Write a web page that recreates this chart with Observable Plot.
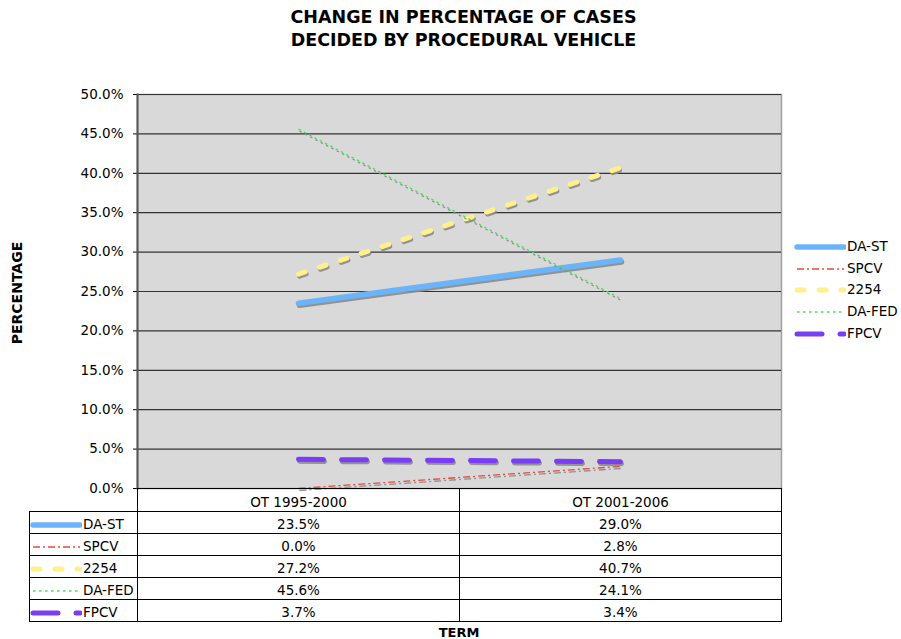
<!DOCTYPE html>
<html><head><meta charset="utf-8">
<script src="https://cdn.jsdelivr.net/npm/d3@7"></script>
<script src="https://cdn.jsdelivr.net/npm/@observablehq/plot@0.6"></script>
<style>
body{margin:0;background:#fff;font-family:"DejaVu Sans",sans-serif;color:#000;}
#wrap{position:relative;width:901px;height:639px;overflow:hidden;background:#fff;}
#title{position:absolute;left:0;top:6px;width:927px;text-align:center;font-weight:bold;font-size:17.5px;line-height:23px;}
#chart{position:absolute;left:0;top:0;}
#ylab{position:absolute;left:17px;top:293px;transform:translate(-50%,-50%) rotate(-90deg);font-weight:bold;font-size:14px;white-space:nowrap;}
#xlab{position:absolute;left:459px;top:632px;transform:translate(-50%,-50%);font-weight:bold;font-size:13px;}
#tbl{position:absolute;left:29px;top:488px;border-collapse:collapse;font-size:13.5px;table-layout:fixed;}
#tbl td{border:1px solid #000;text-align:center;padding:0;height:21px;vertical-align:bottom;line-height:18px;white-space:nowrap;}
#tbl tr.hdr td{height:22px;}
#tbl td.blank{border:none;}
#tbl td.key{text-align:left;}
#tbl td.key svg,#legend svg{vertical-align:middle;margin-right:1px;}
#legend{position:absolute;left:794px;top:236px;font-size:13.5px;}
#legend div{height:21.7px;line-height:21.7px;white-space:nowrap;}
</style>
</head><body>
<div id="wrap">
  <div id="chart"></div>
  <div id="title">CHANGE IN PERCENTAGE OF CASES<br>DECIDED BY PROCEDURAL VEHICLE</div>
  <div id="ylab">PERCENTAGE</div>
  <div id="legend"></div>
  <table id="tbl"></table>
  <div id="xlab">TERM</div>
</div>
<script>
// ---- data ----
const terms = ["OT 1995-2000", "OT 2001-2006"];
const seriesNames = ["DA-ST", "SPCV", "2254", "DA-FED", "FPCV"];
const daSt = [23.5, 29.0];
const spcv = [0.0, 2.8];
const v2254 = [27.2, 40.7];
const daFed = [45.6, 24.1];
const fpcv = [3.7, 3.4];
const yTickValues = [0, 5, 10, 15, 20, 25, 30, 35, 40, 45, 50];

// ---- styles ----
const seriesValues = [daSt, spcv, v2254, daFed, fpcv];
const seriesStyle = {
  "DA-ST":  {stroke: "#6cb4f9", strokeWidth: 5.5, strokeDasharray: null,      strokeLinecap: "round"},
  "SPCV":   {stroke: "#e8483e", strokeWidth: 1.3, strokeDasharray: "7,3,2,3", strokeLinecap: "butt"},
  "2254":   {stroke: "#fff08c", strokeWidth: 5,   strokeDasharray: "7,15",    strokeLinecap: "round"},
  "DA-FED": {stroke: "#44e05a", strokeWidth: 1.3, strokeDasharray: "2.5,3.5", strokeLinecap: "butt"},
  "FPCV":   {stroke: "#7a3df6", strokeWidth: 5,   strokeDasharray: "25,18",   strokeLinecap: "round"}
};
const fmt = d => d.toFixed(1) + "%";

const rows = seriesNames.flatMap((s, i) => terms.map((t, j) => ({series: s, term: t, value: seriesValues[i][j]})));

const lineMarks = [];
for (const s of seriesNames) {
  const st = seriesStyle[s];
  const data = rows.filter(r => r.series === s);
  lineMarks.push(Plot.line(data, {x: "term", y: "value", stroke: "#8a8a8a", strokeOpacity: 0.9,
    strokeWidth: st.strokeWidth, strokeDasharray: st.strokeDasharray, strokeLinecap: st.strokeLinecap, dx: 1, dy: 2}));
  lineMarks.push(Plot.line(data, {x: "term", y: "value", stroke: st.stroke,
    strokeWidth: st.strokeWidth, strokeDasharray: st.strokeDasharray, strokeLinecap: st.strokeLinecap}));
}

const chart = Plot.plot({
  width: 901, height: 500,
  marginTop: 94, marginBottom: 12, marginLeft: 137, marginRight: 120,
  style: {background: "transparent", fontFamily: "DejaVu Sans", fontSize: "13.5px", color: "#000", overflow: "visible"},
  x: {type: "point", domain: terms, padding: 0.5, axis: null},
  y: {domain: [0, 50], axis: null},
  marks: [
    Plot.frame({fill: "#d9d9d9", stroke: "#a0a0a0", strokeWidth: 1.5}),
    Plot.gridY(yTickValues, {stroke: "#333", strokeOpacity: 1, strokeWidth: 1.2}),
    Plot.axisY(yTickValues, {tickFormat: fmt, tickSize: 4, tickPadding: 10, label: null, stroke: "#000", fill: "#000", fontSize: 13.5}),
    Plot.frame({anchor: "left", stroke: "#555", strokeWidth: 2}),
    ...lineMarks
  ]
});
document.getElementById("chart").appendChild(chart);

// ---- key swatch ----
function keySvg(s) {
  const st = seriesStyle[s];
  const svg = d3.create("svg").attr("width", 52).attr("height", 12);
  svg.append("line").attr("x1", 3).attr("x2", 50).attr("y1", 6).attr("y2", 6)
    .attr("stroke", st.stroke).attr("stroke-width", st.strokeWidth)
    .attr("stroke-dasharray", st.strokeDasharray).attr("stroke-linecap", st.strokeLinecap);
  return svg.node();
}

// ---- legend ----
const legend = d3.select("#legend");
for (const s of seriesNames) {
  const row = legend.append("div");
  row.node().appendChild(keySvg(s));
  row.append("span").text(s);
}

// ---- data table ----
const tbl = d3.select("#tbl");
const cg = tbl.append("colgroup");
cg.append("col").style("width", "108px");
terms.forEach(() => cg.append("col").style("width", "322px"));
const hdr = tbl.append("tr").attr("class", "hdr");
hdr.append("td").attr("class", "blank");
terms.forEach(t => hdr.append("td").text(t));
seriesNames.forEach((s, i) => {
  const tr = tbl.append("tr");
  const k = tr.append("td").attr("class", "key");
  k.node().appendChild(keySvg(s));
  k.append("span").text(s);
  seriesValues[i].forEach(v => tr.append("td").text(fmt(v)));
});
</script>
</body></html>
